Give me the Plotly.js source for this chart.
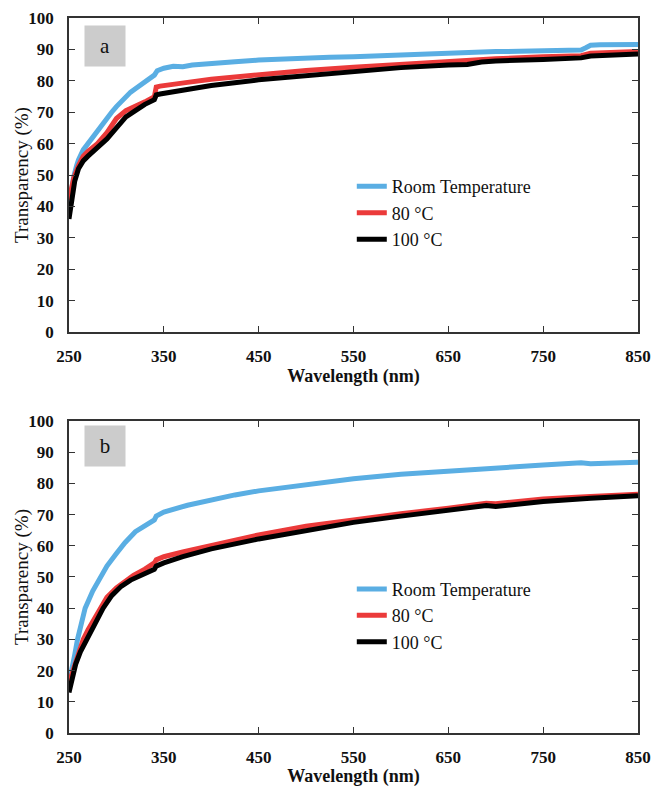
<!DOCTYPE html>
<html>
<head>
<meta charset="utf-8">
<script src="https://cdn.plot.ly/plotly-3.0.1.min.js"></script>
<style>html,body{margin:0;padding:0;background:#fff;}#chart{width:655px;height:787px;}</style>
</head>
<body>
<div id="chart"></div>
<script>
// Panel a
const aRoomX = [250,252,255,258,260,265,270,275,280,285,290,295,300,305,310,315,320,325,330,335,340,343,346,350,360,370,380,400,425,450,475,500,525,550,575,600,625,650,675,700,725,750,775,790,795,800,810,820,835,850];
const aRoomY = [40,45,49.5,53,54.8,58,60,62,64.5,66.3,68.3,70,71.8,73.5,75.2,76.4,77.5,78.6,79.7,80.8,81.8,83.2,83.6,84,84.6,84.5,85,85.6,86.1,86.6,87,87.2,87.5,87.7,88,88.4,88.6,88.9,89,89.3,89.4,89.6,89.6,89.8,90.5,91.3,91.5,91.6,91.5,91.6];
const a80X = [250,252,255,260,265,270,280,290,300,310,320,330,340,342,346,350,360,375,400,450,500,550,600,650,700,750,790,800,850];
const a80Y = [42,45,49,53,56,57.5,60,63.5,68,70.5,71.8,73.3,74.9,78,78.3,78.5,79,79.5,80.5,82,83.3,84.3,85.3,86.2,87,87.7,88,88.8,89.3];
const a100X = [250,253,256,260,265,270,280,290,300,310,320,330,340,342,346,350,360,375,400,450,500,550,600,650,670,685,700,750,790,800,850];
const a100Y = [36,42,48,52,54.5,56,58.5,61.5,65,68.5,70.5,72.5,74,75.5,75.8,76,76.5,77.2,78.5,80.3,81.7,83.2,84.2,85,85.2,86,86.3,86.8,87.3,87.9,88.5];
// Panel b
const bRoomX = [250,253,256,259,263,267,275,283,290,300,309,320,330,340,342,350,375,400,425,450,500,550,600,650,700,750,790,800,850];
const bRoomY = [16,20,25,30,35,40,45.5,50,53.5,57.5,61,64.5,66.5,68.3,69.5,70.8,73,74.8,76.3,77.6,79.7,81.5,82.9,84,85.1,85.9,86.6,86.3,86.8];
const b80X = [250,255,260,265,270,275,283,290,300,310,318,330,340,342,350,370,400,450,500,550,600,650,680,690,700,750,800,850];
const b80Y = [16,21,26,30,33,35.5,40,43.5,46.5,49,50.5,52.5,54.5,55.5,56.5,58,60,63.5,66.3,68.5,70.3,72,73.3,73.6,73.5,75,75.8,76.5];
const b100X = [250,253,257,262,269,276,286,295,305,315,328,340,342,350,370,400,450,500,550,600,650,680,690,700,750,800,850];
const b100Y = [13,17,22,26,30,34,40,44,47,49,51,52.5,53.5,54.5,56.5,59,62.2,65,67.5,69.5,71.2,72.6,72.9,72.6,74.2,75.2,76];
const seriesNames = ["Room Temperature","80 °C","100 °C"];
const xTicks = [250,350,450,550,650,750,850];
const yTicks = [0,10,20,30,40,50,60,70,80,90,100];
const panelLabels = ["a","b"];
const xTitle = "Wavelength (nm)";
const yTitle = "Transparency (%)";

const colors = ["#5aaee3","#eb3a3a","#000000"];
const FONT = "Liberation Serif";

const traces = [];
const aData = [[aRoomX,aRoomY],[a80X,a80Y],[a100X,a100Y]];
const bData = [[bRoomX,bRoomY],[b80X,b80Y],[b100X,b100Y]];
aData.forEach((d,i)=>traces.push({x:d[0],y:d[1],name:seriesNames[i],type:'scatter',mode:'lines',
  line:{color:colors[i],width:5},xaxis:'x',yaxis:'y',legend:'legend'}));
bData.forEach((d,i)=>traces.push({x:d[0],y:d[1],name:seriesNames[i],type:'scatter',mode:'lines',
  line:{color:colors[i],width:5},xaxis:'x2',yaxis:'y2',legend:'legend2'}));

function xa(anchor){
  return {range:[250,850],tickvals:xTicks,ticks:'inside',ticklen:6,tickcolor:'#333',
    showline:true,linecolor:'#333',linewidth:1.5,mirror:'ticks',showgrid:false,zeroline:false,
    tickfont:{family:FONT,size:17,color:'#111',weight:'bold'},ticklabelstandoff:8,
    title:{text:xTitle,font:{family:FONT,size:18,color:'#111',weight:'bold'},standoff:3},
    anchor:anchor};
}
function ya(domain,anchor){
  return {range:[0,100],tickvals:yTicks,ticks:'inside',ticklen:6,tickcolor:'#333',
    showline:true,linecolor:'#333',linewidth:1.5,mirror:'ticks',showgrid:false,zeroline:false,
    tickfont:{family:FONT,size:17,color:'#111',weight:'bold'},ticklabelstandoff:10,
    domain:domain,anchor:anchor};
}
const legendBase = {x:0.497,xanchor:'left',yanchor:'top',bgcolor:'rgba(0,0,0,0)',
  font:{family:FONT,size:18,color:'#111'},itemwidth:30,tracegroupgap:0};

function yTitleAnn(yref){
  return {xref:'paper',yref:yref,x:-0.0826,y:0.5,xanchor:'center',yanchor:'middle',textangle:-90,
    text:yTitle,showarrow:false,font:{family:FONT,size:19,color:'#111'}};
}

const layout = {
  width:655,height:787,
  font:{family:FONT,color:'#111'},
  margin:{l:69,r:17,t:18,b:54},
  paper_bgcolor:'#fff',plot_bgcolor:'#fff',
  showlegend:true,
  xaxis:xa('y'), yaxis:ya([0.5608,1],'x'),
  xaxis2:xa('y2'), yaxis2:ya([0,0.4364],'x2'),
  legend:Object.assign({},legendBase,{y:0.79}),
  legend2:Object.assign({},legendBase,{y:0.227}),
  annotations:[
    {xref:'paper',yref:'paper',x:0.0264,y:0.99,xanchor:'left',yanchor:'top',text:panelLabels[0],showarrow:false,
     font:{family:FONT,size:21,color:'#111'},bgcolor:'#cccccc',width:36,height:36,borderpad:2},
    {xref:'paper',yref:'paper',x:0.0264,y:0.431,xanchor:'left',yanchor:'top',text:panelLabels[1],showarrow:false,
     font:{family:FONT,size:21,color:'#111'},bgcolor:'#cccccc',width:36,height:36,borderpad:2},
    yTitleAnn('y domain'), yTitleAnn('y2 domain')
  ]
};
Plotly.newPlot('chart',traces,layout,{displayModeBar:false});
</script>
</body>
</html>
